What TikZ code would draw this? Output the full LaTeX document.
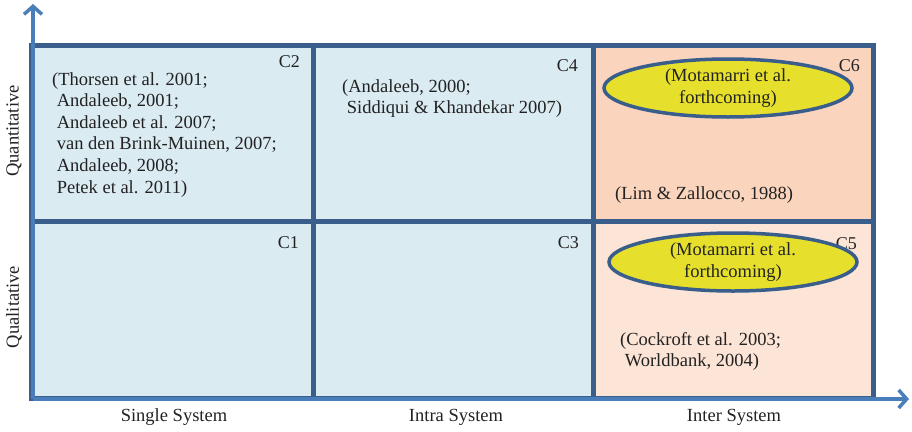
\documentclass[tikz,border=0pt]{standalone}
\usepackage{fontspec}
\setmainfont{Liberation Serif}
\usetikzlibrary{arrows.meta,shapes.geometric}
\definecolor{cellborder}{HTML}{3A5E8C}
\definecolor{axisblue}{HTML}{4A7EBB}
\definecolor{cellblue}{HTML}{DBEBF2}
\definecolor{cellorange}{HTML}{FAD4BC}
\definecolor{cellpeach}{HTML}{FCE4D6}
\definecolor{ellyellow}{HTML}{E6E02C}
\definecolor{txt}{HTML}{222222}
\begin{document}
\begin{tikzpicture}[x=1pt,y=-1pt,
  cell/.style={draw=cellborder,line width=5pt,inner sep=0pt,minimum width=280pt,minimum height=177pt},
  reftext/.style={text=txt,font=\fontsize{18.5}{21.6}\selectfont,align=left,inner sep=0pt,anchor=north west},
  clabel/.style={text=txt,font=\fontsize{18}{20}\selectfont,inner sep=0pt,anchor=north east},
  axlabel/.style={text=txt,font=\fontsize{18.5}{21}\selectfont,inner sep=0pt},
  oval/.style={ellipse,draw=cellborder,line width=3.5pt,fill=ellyellow,minimum width=248pt,minimum height=58pt,inner sep=0pt,align=center,text=txt,font=\fontsize{18.5}{21.6}\selectfont},
  axis/.style={draw=axisblue,line width=3.5pt,-{Straight Barb[length=8pt,width=18pt,line width=3.5pt]}}]
\useasboundingbox (0,0) rectangle (912,431);
% cells
\node[cell,fill=cellblue,minimum width=282pt,minimum height=176pt] (c2) at (172,133) {};
\node[cell,fill=cellblue,minimum height=176pt] (c4) at (453,133) {};
\node[cell,fill=cellorange,minimum height=176pt] (c6) at (733,133) {};
\node[cell,fill=cellblue,minimum width=282pt] (c1) at (172,309.5) {};
\node[cell,fill=cellblue] (c3) at (453,309.5) {};
\node[cell,fill=cellpeach] (c5) at (733,309.5) {};
% axes
\coordinate (o) at (33,399);
\coordinate (ytop) at (33,4);
\coordinate (xend) at (909,399);
\draw[axis] (o) -- (ytop);
\draw[axis] (o) -- (xend);
% cell labels
\node[clabel] (l2) at (300,55) {C2};
\node[clabel] (l4) at (578,59) {C4};
\node[clabel] (l6) at (860,59) {C6};
\node[clabel] (l1) at (299,236) {C1};
\node[clabel] (l3) at (579,236) {C3};
\node[clabel] (l5) at (857,237) {C5};
% texts
\node[reftext] (t2) at (52,72) {(Thorsen et al. 2001;\\\ Andaleeb, 2001;\\\ Andaleeb et al. 2007;\\\ van den Brink-Muinen, 2007;\\\ Andaleeb, 2008;\\\ Petek et al. 2011)};
\node[reftext] (t4) at (342,79) {(Andaleeb, 2000;\\\ Siddiqui \& Khandekar 2007)};
\node[reftext] (t6) at (615,186) {(Lim \& Zallocco, 1988)};
\node[reftext] (t5) at (620,332) {(Cockroft et al. 2003;\\\ Worldbank, 2004)};
% ellipses
\node[oval] (e6) at (728,88) {(Motamarri et al.\\forthcoming)};
\node[oval] (e5) at (733,262) {(Motamarri et al.\\forthcoming)};
% axis labels
\node[axlabel] (xs1) at (174,417) {Single System};
\node[axlabel] (xs2) at (456,417) {Intra System};
\node[axlabel] (xs3) at (734,417) {Inter System};
\node[axlabel,rotate=90] (yq1) at (14,131) {Quantitative};
\node[axlabel,rotate=90] (yq2) at (14,307) {Qualitative};
\end{tikzpicture}
\end{document}
